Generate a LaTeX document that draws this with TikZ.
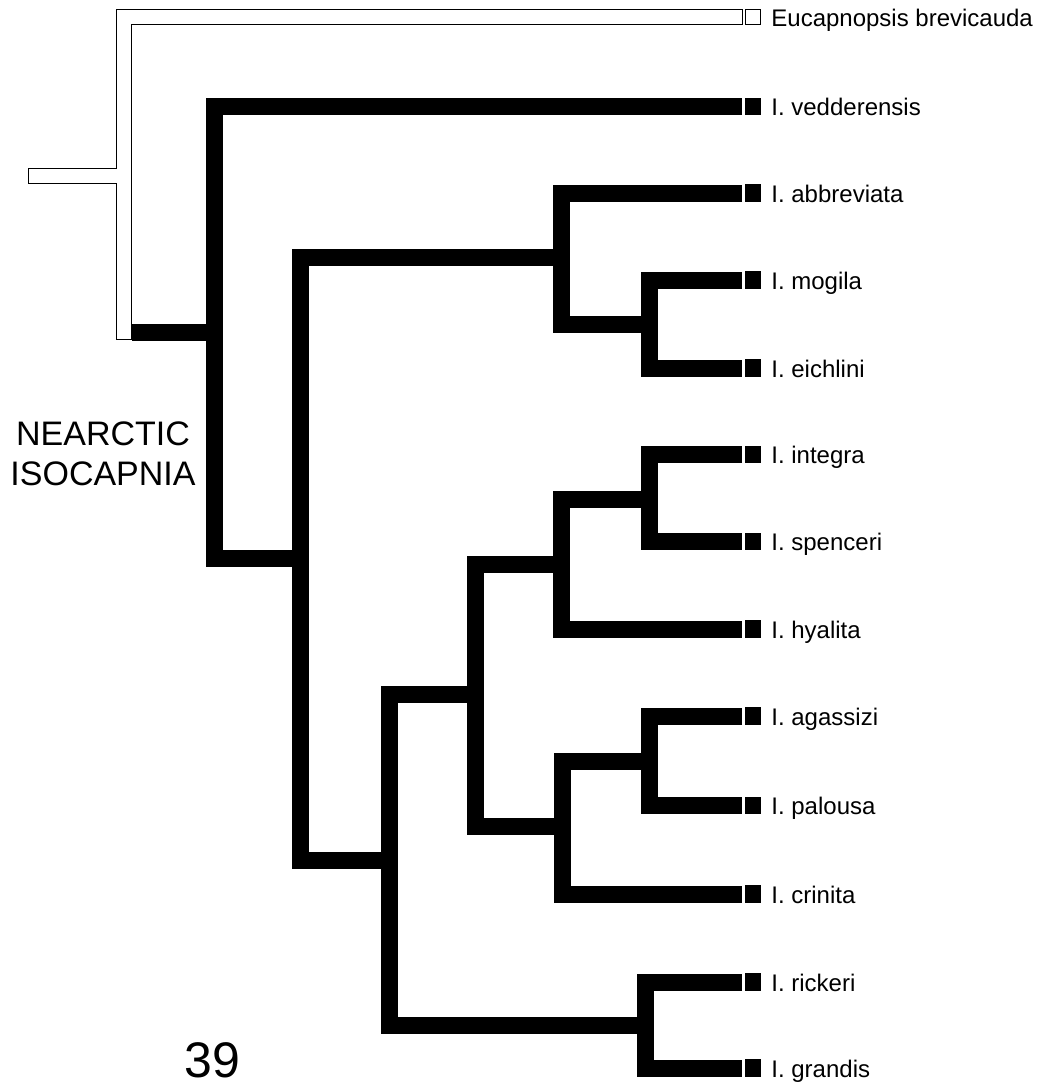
\documentclass[tikz,border=0pt]{standalone}
\usepackage{fontspec}
\setmainfont{Liberation Sans}
\begin{document}
\begin{tikzpicture}[x=0.5pt,y=-0.5pt,
  br/.style={line width=8.5pt,line join=miter,line cap=butt,black},
  openbr/.style={draw=black,line width=0.65pt,fill=white,line join=miter},
  tipsq/.style={fill=black,draw=none,minimum width=8pt,minimum height=8.6pt,inner sep=0pt,outer sep=0pt},
  opensq/.style={fill=white,draw=black,line width=0.65pt,minimum width=7.3pt,minimum height=7.4pt,inner sep=0pt,outer sep=0pt},
  lab/.style={anchor=base west,inner sep=0pt,font=\fontsize{12}{14}\selectfont},
  big/.style={inner sep=0pt,font=\fontsize{17}{20}\selectfont,align=center},
  num/.style={anchor=base west,inner sep=0pt,font=\fontsize{25}{30}\selectfont}]
\useasboundingbox (0,0) rectangle (1049,1089);
\newcommand\mytip[3]{%
  \coordinate (#1) at (742,#2);
  \node[tipsq] (#1s) at (753,#2) {};
  \node[lab] (#1l) at (771,{#2+9}) {#3};}
% tips
\mytip{V}{106.5}{I. vedderensis}
\mytip{abb}{193}{I. abbreviata}
\mytip{mog}{280}{I. mogila}
\mytip{eich}{368}{I. eichlini}
\mytip{int}{454.5}{I. integra}
\mytip{spe}{541.5}{I. spenceri}
\mytip{hya}{629}{I. hyalita}
\mytip{aga}{716}{I. agassizi}
\mytip{pal}{805.5}{I. palousa}
\mytip{cri}{894}{I. crinita}
\mytip{ric}{982}{I. rickeri}
\mytip{gra}{1068}{I. grandis}
% internal nodes
\coordinate (A) at (214,332);
\coordinate (B) at (300.5,558);
\coordinate (C) at (561.5,257);
\coordinate (D) at (649.5,324);
\coordinate (E) at (389.5,860);
\coordinate (F) at (475.5,694);
\coordinate (G) at (561.5,564);
\coordinate (I) at (649.5,499);
\coordinate (H) at (562.5,826);
\coordinate (J) at (649.5,761);
\coordinate (K) at (645.5,1025);
\coordinate (Rj) at (132,332);
% outgroup (open)
\coordinate (Euc) at (742.5,17);
\draw[openbr] (28.6,168.6) -- (116.6,168.6) -- (116.6,9.6) -- (Euc |- 0,9.6) -- (Euc |- 0,24.4)
  -- (131.4,24.4) -- (131.4,339.4) -- (116.6,339.4) -- (116.6,183.4) -- (28.6,183.4) -- cycle;
\node[opensq] (Eucs) at (753,17) {};
\node[lab] (Eucl) at (771,26) {Eucapnopsis brevicauda};
% black branches
\draw[br] (V) -| (A) |- (B);
\draw[br] (C) -| (B) |- (E);
\draw[br] (abb) -| (C) |- (D);
\draw[br] (mog) -| (D) |- (eich);
\draw[br] (F) -| (E) |- (K);
\draw[br] (G) -| (F) |- (H);
\draw[br] (I) -| (G) |- (hya);
\draw[br] (int) -| (I) |- (spe);
\draw[br] (J) -| (H) |- (cri);
\draw[br] (aga) -| (J) |- (pal);
\draw[br] (ric) -| (K) |- (gra);
\draw[br] (A) -- (Rj);
% texts
\node[big,anchor=base] (nearctic) at (103,485) {NEARCTIC\\ISOCAPNIA};
\node[num] (fig) at (184,1077) {39};
\end{tikzpicture}
\end{document}
